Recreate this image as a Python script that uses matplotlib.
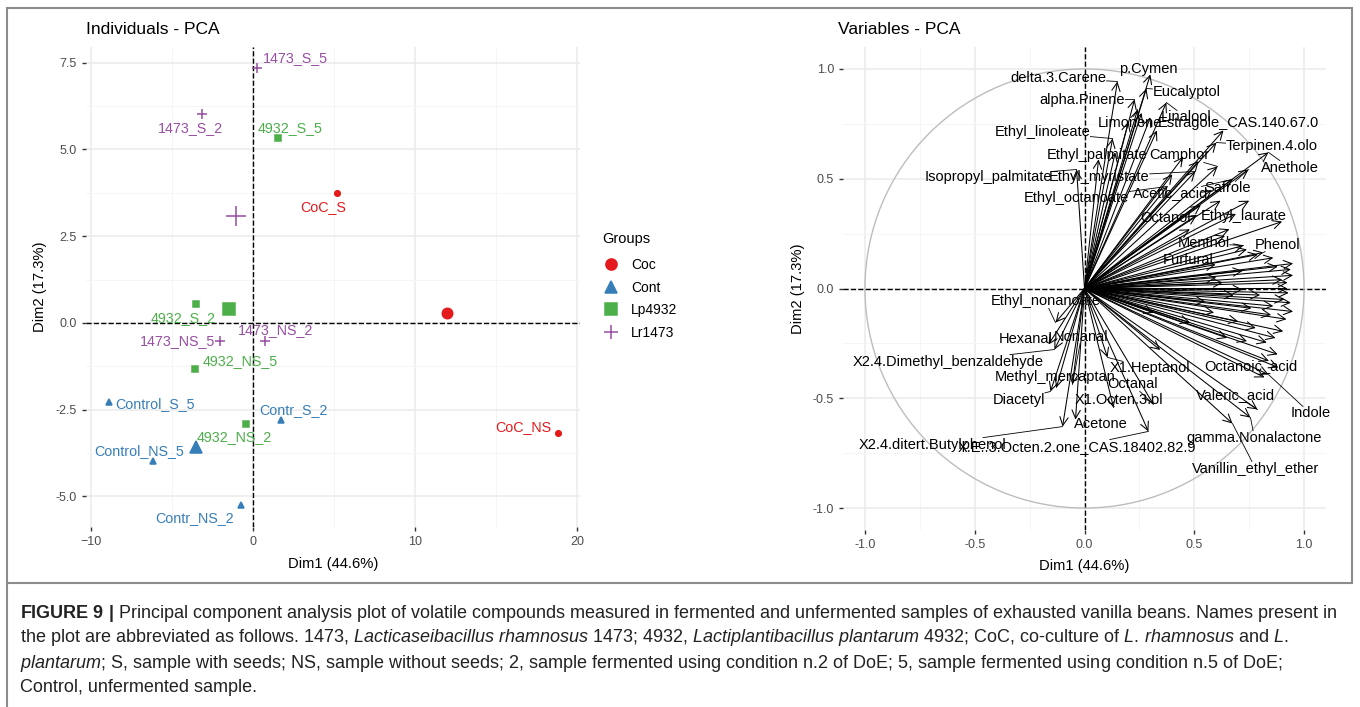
import numpy as np
import matplotlib
matplotlib.use('Agg')
import matplotlib.pyplot as plt
from matplotlib.patches import Rectangle, Circle
from matplotlib.lines import Line2D

plt.rcParams['font.family'] = ['Liberation Sans', 'DejaVu Sans']
plt.rcParams['mathtext.fontset'] = 'custom'
plt.rcParams['mathtext.rm'] = 'Liberation Sans'
plt.rcParams['mathtext.it'] = 'Liberation Sans:italic'
plt.rcParams['mathtext.bf'] = 'Liberation Sans:bold'

# ---- individuals (left panel) ----
ind_names = ['1473_S_5', '1473_S_2', '4932_S_5', 'CoC_S', '4932_S_2', '1473_NS_5', '1473_NS_2',
             '4932_NS_5', 'Control_S_5', 'Contr_S_2', 'CoC_NS', '4932_NS_2', 'Control_NS_5', 'Contr_NS_2']
ind_group = ['Lr1473', 'Lr1473', 'Lp4932', 'Coc', 'Lp4932', 'Lr1473', 'Lr1473',
             'Lp4932', 'Cont', 'Cont', 'Coc', 'Lp4932', 'Cont', 'Cont']
ind_dim1 = [0.23, -3.17, 1.54, 5.15, -3.52, -2.04, 0.71, -3.57, -8.9, 1.7, 18.82, -0.43, -6.22, -0.78]
ind_dim2 = [7.34, 6.01, 5.32, 3.74, 0.55, -0.52, -0.52, -1.32, -2.28, -2.8, -3.16, -2.91, -3.98, -5.24]
# repelled label positions
ind_lab_x = [2.57, -3.91, 2.27, 4.30, -4.34, -4.71, 1.40, -0.82, -6.07, 2.45, 16.65, -1.19, -7.05, -3.60]
ind_lab_y = [7.64, 5.62, 5.62, 3.34, 0.14, -0.52, -0.20, -1.10, -2.33, -2.51, -3.0, -3.29, -3.69, -5.62]

groups = ['Coc', 'Cont', 'Lp4932', 'Lr1473']
group_colors = {'Coc': '#E41A1C', 'Cont': '#377EB8', 'Lp4932': '#4DAF4A', 'Lr1473': '#984EA3'}
group_markers = {'Coc': 'o', 'Cont': '^', 'Lp4932': 's', 'Lr1473': '+'}

# ---- variables (right panel) ----
var_names = ['delta.3.Carene', 'p.Cymen', 'Eucalyptol', 'alpha.Pinene', 'Limonene', 'Linalool',
             'Estragole_CAS.140.67.0', 'Ethyl_linoleate', 'Terpinen.4.olo', 'Ethyl_palmitate', 'Camphor',
             'Anethole', 'Isopropyl_palmitate', 'Ethyl_myristate', 'Ethyl_octanoate', 'Acetic_acid',
             'Safrole', 'Octanol', 'Ethyl_laurate', 'Menthol', 'Phenol', 'Furfural', 'Ethyl_nonanoate',
             'Hexanal', 'Nonanal', 'X2.4.Dimethyl_benzaldehyde', 'Methyl_mercaptan', 'Diacetyl',
             'X1.Octen.3.ol', 'Acetone', 'X2.4.ditert.Butylphenol', 'X.E..3.Octen.2.one_CAS.18402.82.9',
             'X1.Heptanol', 'Octanoic_acid', 'Octanal', 'Valeric_acid', 'Indole', 'gamma.Nonalactone',
             'Vanillin_ethyl_ether']
var_dim1 = [0.150, 0.300, 0.282, 0.228, 0.242, 0.373, 0.633, 0.128, 0.601, 0.064, 0.606,
            0.838, -0.036, 0.505, 0.378, 0.674, 0.747, 0.510, 0.900, 0.724, 0.815, 0.597, -0.132,
            -0.164, -0.055, -0.137, -0.128, -0.155, 0.132, -0.041, -0.100, 0.291,
            0.105, 0.883, 0.314, 0.788, 0.838, 0.756, 0.674]
var_dim2 = [0.943, 0.975, 0.911, 0.861, 0.815, 0.847, 0.720, 0.683, 0.665, 0.588, 0.556,
            0.620, 0.542, 0.533, 0.465, 0.497, 0.542, 0.333, 0.305, 0.196, 0.164, 0.109, -0.155,
            -0.255, -0.437, -0.278, -0.451, -0.469, -0.542, -0.597, -0.629, -0.651,
            -0.314, -0.360, -0.528, -0.551, -0.392, -0.588, -0.615]
var_lab_x = [-0.118, 0.291, 0.464, -0.009, 0.205, 0.464, 0.700, -0.191, 0.852, 0.055, 0.433,
             0.934, -0.437, 0.068, -0.036, 0.392, 0.651, 0.369, 0.724, 0.542, 0.879, 0.474, -0.178,
             -0.269, -0.014, -0.619, -0.132, -0.300, 0.159, 0.073, -0.692, -0.036,
             0.300, 0.756, 0.219, 0.688, 1.029, 0.774, 0.779]
var_lab_y = [0.957, 1.002, 0.897, 0.857, 0.752, 0.779, 0.752, 0.711, 0.647, 0.610, 0.606,
             0.551, 0.510, 0.510, 0.410, 0.433, 0.456, 0.323, 0.328, 0.205, 0.200, 0.128, -0.059,
             -0.232, -0.219, -0.333, -0.405, -0.506, -0.506, -0.615, -0.711, -0.720,
             -0.364, -0.355, -0.437, -0.487, -0.569, -0.679, -0.820]
# variables whose labels were hidden by overlap
other_dim1 = [0.26, 0.30, 0.20, 0.33, 0.14, 0.45, 0.52, 0.40, 0.58, 0.62, 0.69, 0.53, 0.75, 0.66,
              0.64, 0.48, 0.86, 0.79, 0.74, 0.95, 0.94, 0.95, 0.925, 0.60, 0.72,
              0.925, 0.91, 0.95, 0.905, 0.87, 0.83, 0.74, 0.65, 0.59, 0.72, 0.63, 0.82, 0.345,
              0.48, 0.315, 0.80, 0.86, 0.70, 0.78, 0.55, 0.92, 0.88, 0.84,
              0.93, 0.90, 0.85, 0.88, 0.94, 0.76, 0.68]
other_dim2 = [0.80, 0.78, 0.76, 0.72, 0.62, 0.60, 0.58, 0.52, 0.45, 0.40, 0.34, 0.38, 0.40, 0.27,
              0.24, 0.27, 0.14, 0.155, 0.178, 0.114, 0.087, 0.06, 0.027, 0.05, 0.08,
              0.0, -0.05, -0.105, -0.195, -0.225, -0.246, -0.24, -0.225, -0.11, -0.005, 0.027, -0.405, -0.28,
              -0.155, -0.11, -0.03, -0.08, -0.15, -0.18, -0.06, -0.14, -0.30, -0.33,
              -0.02, 0.04, -0.12, 0.10, -0.065, -0.09, -0.03]

W, H = 1360, 707
fig = plt.figure(figsize=(W / 100, H / 100), dpi=100)


def px_axes(x0, y0, x1, y1):
    return fig.add_axes([x0 / W, 1 - y1 / H, (x1 - x0) / W, (y1 - y0) / H])


def style_axes(ax):
    for s in ax.spines.values():
        s.set_visible(False)
    ax.set_axisbelow(True)
    ax.grid(which='major', color='#EBEBEB', lw=1.1)
    ax.grid(which='minor', color='#F4F4F4', lw=0.6)
    ax.tick_params(which='major', length=3, width=1, color='#333333', labelcolor='#4D4D4D', labelsize=9)
    ax.tick_params(which='minor', length=0)
    ax.axhline(0, color='black', ls='--', lw=1, zorder=1)
    ax.axvline(0, color='black', ls='--', lw=1, zorder=1)


# ================= Individuals =================
ax1 = px_axes(86, 47, 580, 527)
style_axes(ax1)
ax1.set_xlim(-10.33, 20.17)
ax1.set_ylim(-5.88, 7.95)
ax1.set_xticks([-10, 0, 10, 20])
ax1.set_xticks([-5, 5, 15], minor=True)
ax1.set_yticks([-5, -2.5, 0, 2.5, 5, 7.5])
ax1.set_yticklabels(['-5.0', '-2.5', '0.0', '2.5', '5.0', '7.5'])
ax1.set_yticks([-3.75, -1.25, 1.25, 3.75, 6.25], minor=True)

small_ms = {'o': 4, '^': 4.5, 's': 4, '+': 7}
big_ms = {'o': 7.5, '^': 9, 's': 9, '+': 14}
for i, name in enumerate(ind_names):
    g = ind_group[i]
    c = group_colors[g]
    m = group_markers[g]
    ax1.plot(ind_dim1[i], ind_dim2[i], ls='none', marker=m, color=c, ms=small_ms[m], mew=1.1, zorder=3)
    ax1.text(ind_lab_x[i], ind_lab_y[i], name, color=c, fontsize=10.3, ha='center', va='center', zorder=4)

# group centroids
for g in groups:
    xs = [ind_dim1[i] for i in range(len(ind_names)) if ind_group[i] == g]
    ys = [ind_dim2[i] for i in range(len(ind_names)) if ind_group[i] == g]
    m = group_markers[g]
    ax1.plot(np.mean(xs), np.mean(ys), ls='none', marker=m, color=group_colors[g], ms=big_ms[m], mew=1.1, zorder=3)

ax1.set_xlabel('Dim1 (44.6%)', fontsize=10.6)
ax1.set_ylabel('Dim2 (17.3%)', fontsize=10.6)
ax1.xaxis.set_label_coords(0.5, -0.0625)
ax1.yaxis.set_label_coords(-0.079, 0.5)
fig.text(86 / W, 1 - 30 / H, 'Individuals - PCA', fontsize=12.5, ha='left', va='center')

# legend
handles = [Line2D([], [], ls='none', marker=group_markers[g], color=group_colors[g],
                  ms=8 if group_markers[g] != '+' else 10, mew=1.1, label=g) for g in groups]
fig.text(602 / W, 1 - 239 / H, 'Groups', fontsize=10.5, ha='left', va='center')
fig.legend(handles=handles, loc='upper left', bbox_to_anchor=(603 / W, 1 - 258 / H), frameon=False,
           fontsize=10, handlelength=1.2, handletextpad=0.8, labelspacing=0.62, borderaxespad=0,
           borderpad=0)

# ================= Variables =================
ax2 = px_axes(843, 47, 1326, 530)
style_axes(ax2)
ax2.set_xlim(-1.1, 1.1)
ax2.set_ylim(-1.1, 1.1)
ax2.set_xticks([-1, -0.5, 0, 0.5, 1])
ax2.set_xticklabels(['-1.0', '-0.5', '0.0', '0.5', '1.0'])
ax2.set_yticks([-1, -0.5, 0, 0.5, 1])
ax2.set_yticklabels(['-1.0', '-0.5', '0.0', '0.5', '1.0'])
ax2.set_xticks([-0.75, -0.25, 0.25, 0.75], minor=True)
ax2.set_yticks([-0.75, -0.25, 0.25, 0.75], minor=True)
ax2.add_patch(Circle((0, 0), 1, fill=False, ec='#BDBDBD', lw=1, zorder=1.5))

arrow_kw = dict(arrowstyle='->,head_length=0.6,head_width=0.3', lw=0.75, color='black',
                shrinkA=0, shrinkB=0, mutation_scale=10)
for x, y in zip(other_dim1, other_dim2):
    ax2.annotate('', xy=(x, y), xytext=(0, 0), arrowprops=arrow_kw, zorder=2)
for x, y in zip(var_dim1, var_dim2):
    ax2.annotate('', xy=(x, y), xytext=(0, 0), arrowprops=arrow_kw, zorder=2)

renderer = fig.canvas.get_renderer()
inv = ax2.transData.inverted()
for name, x, y, lx, ly in zip(var_names, var_dim1, var_dim2, var_lab_x, var_lab_y):
    t = ax2.text(lx, ly, name, fontsize=10.5, ha='center', va='center', zorder=4)
    bb = t.get_window_extent(renderer).transformed(inv)
    hw, hh = bb.width / 2, bb.height / 2
    dx, dy = x - lx, y - ly
    ts = []
    if abs(dx) > 1e-9:
        ts.append(hw / abs(dx))
    if abs(dy) > 1e-9:
        ts.append(hh / abs(dy))
    tt = min(ts) if ts else 1
    if tt < 0.9:
        ax2.plot([lx + tt * dx, x], [ly + tt * dy, y], color='black', lw=0.6, zorder=3)

ax2.set_xlabel('Dim1 (44.6%)', fontsize=10.6)
ax2.set_ylabel('Dim2 (17.3%)', fontsize=10.6)
ax2.xaxis.set_label_coords(0.5, -0.06)
ax2.yaxis.set_label_coords(-0.079, 0.5)
fig.text(838 / W, 1 - 30 / H, 'Variables - PCA', fontsize=12.5, ha='left', va='center')

# frame
fig.add_artist(Rectangle((7 / W, 1 - 583 / H), 1345 / W, 575 / H, transform=fig.transFigure,
                         fill=False, ec='#8C8C8C', lw=1.5))
fig.add_artist(Line2D([7 / W, 7 / W], [0, 1 - 583 / H], transform=fig.transFigure, color='#8C8C8C', lw=1.5))

# caption
cap_lines = [
    r'$\mathbf{FIGURE\ 9\ |}$ Principal component analysis plot of volatile compounds measured in fermented and '
    r'unfermented samples of exhausted vanilla beans. Names present in',
    r'the plot are abbreviated as follows. 1473, $\mathit{Lacticaseibacillus\ rhamnosus}$ 1473; 4932, '
    r'$\mathit{Lactiplantibacillus\ plantarum}$ 4932; CoC, co-culture of $\mathit{L.\,rhamnosus}$ and $\mathit{L.}$',
    r'$\mathit{plantarum}$; S, sample with seeds; NS, sample without seeds; 2, sample fermented using condition '
    r'n.2 of DoE; 5, sample fermented using condition n.5 of DoE;',
    'Control, unfermented sample.',
]
for i, line in enumerate(cap_lines):
    fig.text(20 / W, 1 - (613 + 25 * i) / H, line, fontsize=13, color='#222222', ha='left', va='center')

fig.savefig('out.png', dpi=100)
